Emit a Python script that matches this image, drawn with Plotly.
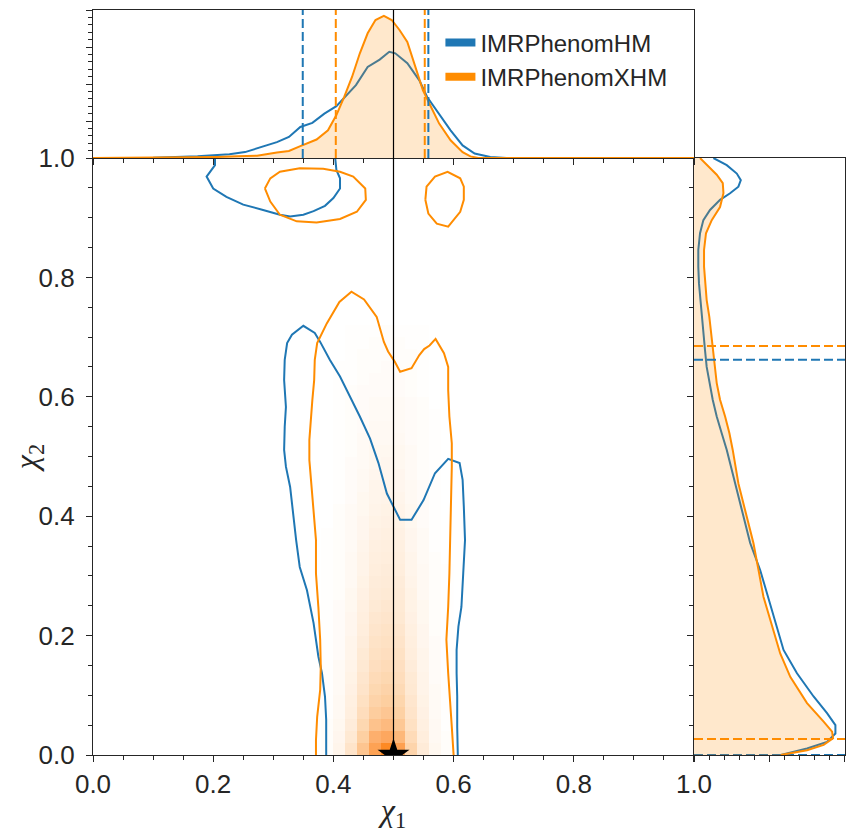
import plotly.graph_objects as go

# ---------------------------------------------------------------- data ----
LABELS = ["IMRPhenomHM", "IMRPhenomXHM"]
BLUE = "#1f77b4"
ORANGE = "#ff8c00"

INJ_CHI1 = 0.5
INJ_CHI2 = 0.0

# 1D marginal of chi1 (top panel)
BLUE_CHI1_X = [0.0, 0.10, 0.174, 0.201, 0.227, 0.253, 0.280, 0.306, 0.326, 0.345, 0.365, 0.385,
               0.405, 0.424, 0.4375, 0.457, 0.477, 0.493, 0.503, 0.523, 0.543, 0.556, 0.576,
               0.595, 0.615, 0.635, 0.661, 0.688, 0.75, 1.0]
BLUE_CHI1_PDF = [0.0, 0.01, 0.045, 0.063, 0.10, 0.16, 0.29, 0.43, 0.57, 0.84, 0.95, 1.20,
                 1.40, 1.74, 1.97, 2.46, 2.66, 2.87, 2.83, 2.56, 2.10, 1.65, 1.20,
                 0.75, 0.34, 0.12, 0.03, 0.0, 0.0, 0.0]
ORANGE_CHI1_X = [0.0, 0.15, 0.207, 0.240, 0.273, 0.306, 0.326, 0.345, 0.372, 0.391, 0.405, 0.418,
                 0.431, 0.444, 0.457, 0.470, 0.484, 0.497, 0.510, 0.523, 0.536, 0.549, 0.5625,
                 0.576, 0.595, 0.615, 0.628, 0.641, 0.70, 1.0]
ORANGE_CHI1_PDF = [0.0, 0.01, 0.03, 0.045, 0.063, 0.15, 0.19, 0.32, 0.50, 0.75, 1.16, 1.65,
                   2.19, 2.83, 3.37, 3.73, 3.84, 3.73, 3.46, 3.14, 2.47, 1.83, 1.38,
                   0.93, 0.48, 0.16, 0.045, 0.0, 0.0, 0.0]

# 1D marginal of chi2 (right panel)
BLUE_CHI2_Y = [0.0, 0.011, 0.022, 0.036, 0.050, 0.070, 0.098, 0.137, 0.176, 0.215, 0.265, 0.310,
               0.355, 0.399, 0.455, 0.511, 0.539, 0.567, 0.595, 0.623, 0.650, 0.678, 0.706,
               0.734, 0.762, 0.790, 0.818, 0.846, 0.874, 0.896, 0.913, 0.930, 0.941, 0.952,
               0.963, 0.974, 0.988, 1.0]
BLUE_CHI2_PDF = [1.15, 1.497, 1.762, 1.873, 1.873, 1.762, 1.584, 1.364, 1.186, 1.098, 0.987, 0.876,
                 0.744, 0.655, 0.544, 0.434, 0.367, 0.301, 0.248, 0.203, 0.168, 0.146, 0.124,
                 0.102, 0.08, 0.066, 0.057, 0.057, 0.08, 0.124, 0.212, 0.345, 0.478, 0.588,
                 0.62, 0.567, 0.434, 0.257]
ORANGE_CHI2_Y = [0.0, 0.008, 0.017, 0.028, 0.039, 0.056, 0.087, 0.131, 0.170, 0.215, 0.265, 0.310,
                 0.355, 0.399, 0.455, 0.511, 0.539, 0.567, 0.595, 0.623, 0.650, 0.678, 0.706,
                 0.734, 0.762, 0.790, 0.818, 0.846, 0.874, 0.896, 0.918, 0.941, 0.958, 0.972,
                 0.988, 1.0]
ORANGE_CHI2_PDF = [1.15, 1.497, 1.717, 1.842, 1.829, 1.717, 1.497, 1.275, 1.142, 1.032, 0.920, 0.854,
                   0.787, 0.699, 0.588, 0.513, 0.469, 0.412, 0.345, 0.301, 0.279, 0.257, 0.235,
                   0.203, 0.168, 0.146, 0.133, 0.133, 0.159, 0.235, 0.345, 0.39, 0.381, 0.301,
                   0.168, 0.08]

# 90% credible bounds
CHI1_CI_BLUE = [0.349, 0.558]
CHI1_CI_ORANGE = [0.404, 0.552]
CHI2_CI_BLUE = [0.0, 0.662]
CHI2_CI_ORANGE = [0.027, 0.685]

# 2D credible contours (main panel)
BLUE_MAIN_X = [0.388, 0.388, 0.388, 0.386, 0.381, 0.375, 0.367, 0.356, 0.344, 0.338, 0.333, 0.328,
               0.321, 0.318, 0.319, 0.321, 0.318, 0.319, 0.323, 0.331, 0.350, 0.369, 0.378, 0.394,
               0.411, 0.428, 0.444, 0.461, 0.475, 0.489, 0.500, 0.511, 0.530, 0.550, 0.569, 0.591,
               0.610, 0.615, 0.617, 0.619, 0.616, 0.613, 0.608, 0.605, 0.605, 0.606, 0.606, 0.607]
BLUE_MAIN_Y = [0.0, 0.025, 0.059, 0.098, 0.137, 0.165, 0.221, 0.276, 0.315, 0.360, 0.405, 0.449,
               0.483, 0.511, 0.550, 0.583, 0.628, 0.662, 0.690, 0.704, 0.719, 0.707, 0.692, 0.662,
               0.634, 0.600, 0.567, 0.530, 0.489, 0.438, 0.416, 0.394, 0.394, 0.427, 0.472, 0.496,
               0.489, 0.461, 0.416, 0.360, 0.304, 0.248, 0.215, 0.176, 0.137, 0.098, 0.047, 0.0]
BLUE_TOP_X = [0.203, 0.203, 0.189, 0.200, 0.222, 0.250, 0.283, 0.311, 0.328, 0.350, 0.367, 0.386,
              0.400, 0.411, 0.411, 0.405, 0.403]
BLUE_TOP_Y = [1.0, 0.988, 0.969, 0.949, 0.935, 0.922, 0.913, 0.905, 0.902, 0.905, 0.911, 0.920,
              0.933, 0.949, 0.966, 0.980, 1.0]

ORANGE_MAIN_X = [0.371, 0.371, 0.373, 0.378, 0.379, 0.378, 0.375, 0.371, 0.371, 0.367, 0.364, 0.360,
                 0.360, 0.362, 0.365, 0.368, 0.369, 0.373, 0.389, 0.410, 0.430, 0.451, 0.472, 0.484,
                 0.491, 0.502, 0.511, 0.530, 0.543, 0.551, 0.560, 0.570, 0.584, 0.591, 0.591, 0.593,
                 0.597, 0.597, 0.596, 0.594, 0.593, 0.591, 0.588, 0.591, 0.594, 0.597, 0.600]
ORANGE_MAIN_Y = [0.0, 0.025, 0.064, 0.109, 0.148, 0.193, 0.248, 0.304, 0.360, 0.405, 0.449, 0.494,
                 0.528, 0.561, 0.595, 0.628, 0.662, 0.690, 0.723, 0.759, 0.776, 0.763, 0.734, 0.692,
                 0.676, 0.659, 0.642, 0.648, 0.670, 0.680, 0.686, 0.697, 0.673, 0.650, 0.611, 0.567,
                 0.522, 0.483, 0.433, 0.360, 0.304, 0.248, 0.193, 0.137, 0.098, 0.047, 0.0]
ORANGE_TOPL_X = [0.286, 0.295, 0.311, 0.344, 0.383, 0.411, 0.433, 0.453, 0.454, 0.439, 0.411, 0.372,
                 0.339, 0.311, 0.295, 0.286]
ORANGE_TOPL_Y = [0.949, 0.966, 0.977, 0.983, 0.982, 0.977, 0.969, 0.949, 0.930, 0.910, 0.898, 0.892,
                 0.894, 0.905, 0.927, 0.949]
ORANGE_TOPR_X = [0.553, 0.555, 0.569, 0.590, 0.611, 0.617, 0.617, 0.611, 0.591, 0.572, 0.558, 0.553]
ORANGE_TOPR_Y = [0.930, 0.952, 0.969, 0.977, 0.966, 0.952, 0.930, 0.910, 0.885, 0.890, 0.907, 0.930]

# 2D histogram of the IMRPhenomXHM samples (rows: chi2 bins from 0, cols: chi1 bins from 0.38)
HIST_X = [0.39, 0.41, 0.43, 0.45, 0.47, 0.49, 0.51, 0.53, 0.55, 0.57, 0.59]
HIST_Y = [0.01 + 0.02 * i for i in range(36)]
HIST_Z = [
    [2, 8, 22, 48, 78, 100, 80, 36, 16, 6, 2],
    [2, 7, 18, 40, 64, 72, 58, 30, 14, 5, 2],
    [2, 6, 15, 33, 50, 56, 46, 25, 12, 5, 1],
    [1, 5, 13, 28, 42, 47, 39, 22, 11, 4, 1],
    [1, 5, 12, 25, 37, 41, 35, 20, 10, 4, 1],
    [1, 4, 11, 22, 33, 37, 31, 18, 9, 4, 1],
    [1, 4, 10, 20, 30, 33, 28, 17, 9, 3, 1],
    [1, 4, 9, 18, 27, 30, 26, 15, 8, 3, 1],
    [1, 3, 8, 17, 25, 27, 24, 14, 8, 3, 1],
    [1, 3, 8, 15, 23, 25, 22, 13, 7, 3, 1],
    [1, 3, 7, 14, 21, 23, 20, 12, 7, 2, 1],
    [1, 3, 7, 13, 19, 21, 18, 11, 6, 2, 1],
    [1, 3, 6, 12, 17, 19, 17, 10, 6, 2, 1],
    [1, 2, 6, 11, 16, 17, 16, 10, 5, 2, 1],
    [1, 2, 5, 10, 15, 16, 15, 9, 5, 2, 1],
    [1, 2, 5, 9, 14, 15, 14, 8, 5, 2, 1],
    [1, 2, 5, 9, 13, 14, 13, 8, 4, 2, 0],
    [1, 2, 4, 8, 12, 13, 12, 7, 4, 1, 0],
    [1, 2, 4, 7, 11, 12, 11, 7, 4, 1, 0],
    [0, 2, 4, 7, 10, 11, 10, 6, 3, 1, 0],
    [0, 2, 4, 6, 9, 10, 9, 6, 3, 1, 0],
    [0, 1, 3, 6, 8, 9, 8, 5, 3, 1, 0],
    [0, 1, 3, 5, 8, 8, 7, 5, 3, 1, 0],
    [0, 1, 3, 5, 7, 7, 7, 4, 2, 1, 0],
    [0, 1, 3, 4, 6, 7, 6, 4, 2, 1, 0],
    [0, 1, 2, 4, 6, 6, 6, 4, 2, 1, 0],
    [0, 1, 2, 4, 5, 5, 5, 3, 2, 1, 0],
    [0, 1, 2, 3, 5, 5, 4, 3, 2, 1, 0],
    [0, 1, 2, 3, 4, 4, 4, 3, 2, 1, 0],
    [0, 1, 2, 3, 4, 4, 4, 3, 2, 0, 0],
    [0, 1, 2, 3, 3, 3, 3, 2, 1, 0, 0],
    [0, 1, 1, 2, 3, 3, 3, 2, 1, 0, 0],
    [0, 1, 1, 2, 2, 3, 2, 2, 1, 0, 0],
    [0, 0, 1, 2, 2, 2, 2, 2, 1, 0, 0],
    [0, 0, 1, 1, 2, 2, 2, 1, 1, 0, 0],
    [0, 0, 1, 1, 1, 2, 1, 1, 1, 0, 0],
]

# --------------------------------------------------------------- figure ---
FONT = "Liberation Sans, Arial, sans-serif"
INK = "#262626"
XSPLIT = 0.7992   # main / right-panel boundary (paper)
YSPLIT = 0.8013   # main / top-panel boundary (paper)

fig = go.Figure()

# main panel: histogram, contours, injection
fig.add_trace(go.Heatmap(
    x=HIST_X, y=HIST_Y, z=HIST_Z, zmin=0, zmax=100, showscale=False, hoverinfo="skip",
    colorscale=[[0, "#ffffff"], [0.08, "#fff5eb"], [0.2, "#fee6ce"], [0.4, "#fdd0a2"],
                [0.65, "#fdae6b"], [0.85, "#fd9b48"], [1, "#fd8a24"]],
    xaxis="x", yaxis="y"))

fig.add_trace(go.Scatter(
    x=BLUE_MAIN_X + [None] + BLUE_TOP_X, y=BLUE_MAIN_Y + [None] + BLUE_TOP_Y,
    mode="lines", line=dict(color=BLUE, width=2), showlegend=False, xaxis="x", yaxis="y"))
fig.add_trace(go.Scatter(
    x=ORANGE_MAIN_X + [None] + ORANGE_TOPL_X + [None] + ORANGE_TOPR_X,
    y=ORANGE_MAIN_Y + [None] + ORANGE_TOPL_Y + [None] + ORANGE_TOPR_Y,
    mode="lines", line=dict(color=ORANGE, width=2), showlegend=False, xaxis="x", yaxis="y"))
fig.add_trace(go.Scatter(
    x=[INJ_CHI1], y=[INJ_CHI2], mode="markers",
    marker=dict(symbol="star", size=24, color="black"), showlegend=False, xaxis="x", yaxis="y"))

# top panel: chi1 marginals (orange fill drawn over the blue line)
fig.add_trace(go.Scatter(
    x=BLUE_CHI1_X, y=BLUE_CHI1_PDF, mode="lines", line=dict(color=BLUE, width=2),
    showlegend=False, xaxis="x3", yaxis="y3"))
fig.add_trace(go.Scatter(
    x=ORANGE_CHI1_X, y=ORANGE_CHI1_PDF, mode="lines", line=dict(color=ORANGE, width=2),
    fill="tozeroy", fillcolor="rgba(255,140,0,0.2)", showlegend=False, xaxis="x3", yaxis="y3"))

# right panel: chi2 marginals
fig.add_trace(go.Scatter(
    x=BLUE_CHI2_PDF, y=BLUE_CHI2_Y, mode="lines", line=dict(color=BLUE, width=2),
    showlegend=False, xaxis="x2", yaxis="y2"))
fig.add_trace(go.Scatter(
    x=ORANGE_CHI2_PDF, y=ORANGE_CHI2_Y, mode="lines", line=dict(color=ORANGE, width=2),
    fill="tozerox", fillcolor="rgba(255,140,0,0.2)", showlegend=False, xaxis="x2", yaxis="y2"))

# legend-only entries
for name, color in zip(LABELS, [BLUE, ORANGE]):
    fig.add_trace(go.Scatter(x=[None], y=[None], mode="lines", name=name,
                             line=dict(color=color, width=8), xaxis="x3", yaxis="y3"))

# credible-interval and injection lines
dash = "9px,4px"
for v in CHI1_CI_BLUE:
    fig.add_shape(type="line", xref="x3", yref="y3 domain", x0=v, x1=v, y0=0, y1=1,
                  line=dict(color=BLUE, width=2, dash=dash))
for v in CHI1_CI_ORANGE:
    fig.add_shape(type="line", xref="x3", yref="y3 domain", x0=v, x1=v, y0=0, y1=1,
                  line=dict(color=ORANGE, width=2, dash=dash))
for v in CHI2_CI_BLUE:
    fig.add_shape(type="line", xref="x2 domain", yref="y2", x0=0, x1=1, y0=v, y1=v,
                  layer="below" if v == 0 else "above",
                  line=dict(color=BLUE, width=2, dash=dash))
for v in CHI2_CI_ORANGE:
    fig.add_shape(type="line", xref="x2 domain", yref="y2", x0=0, x1=1, y0=v, y1=v,
                  line=dict(color=ORANGE, width=2, dash=dash))
for xr, yr in [("x", "y domain"), ("x3", "y3 domain")]:
    fig.add_shape(type="line", xref=xr, yref=yr, x0=INJ_CHI1, x1=INJ_CHI1, y0=0, y1=1,
                  line=dict(color="black", width=1.2))

axis_common = dict(showgrid=False, zeroline=False, showline=True, linecolor=INK, linewidth=1.25,
                   ticks="outside", ticklen=6, tickwidth=1.25, tickcolor=INK, automargin=False,
                   tickfont=dict(family=FONT, size=26, color=INK))
minor_main = dict(dtick=0.05, ticklen=3.5, tickwidth=1, tickcolor=INK, ticks="outside")
label_font = dict(family="Liberation Serif, serif", size=32, color=INK)

# the page body adds an 8 px offset, so the figure is 8 px smaller than the window
fig.update_layout(
    width=846, height=828, margin=dict(l=85, r=9, t=2, b=81),
    paper_bgcolor="white", plot_bgcolor="white",
    xaxis=dict(domain=[0, XSPLIT], range=[0, 1], anchor="y", tickvals=[0, 0.2, 0.4, 0.6, 0.8, 1.0],
               tickformat=".1f", minor=minor_main,
               title=dict(text="<i>χ</i><sub>1</sub>", font=label_font, standoff=0),
               **axis_common),
    yaxis=dict(domain=[0, YSPLIT], range=[0, 1], anchor="x", tickvals=[0, 0.2, 0.4, 0.6, 0.8, 1.0],
               tickformat=".1f", minor=minor_main, ticklabelstandoff=6,
               title=dict(text="<i>χ</i><sub>2</sub>", font=label_font),
               **axis_common),
    xaxis2=dict(domain=[XSPLIT, 1], range=[0, 2.0], anchor="y2", tickvals=[0, 1, 2],
                showticklabels=False, mirror=True,
                minor=dict(dtick=0.2, ticklen=3.5, tickwidth=1, tickcolor=INK, ticks="outside"),
                **axis_common),
    yaxis2=dict(domain=[0, YSPLIT], range=[0, 1], anchor="x2", matches="y",
                tickvals=[0, 0.2, 0.4, 0.6, 0.8, 1.0], showticklabels=False, mirror=True,
                minor=minor_main, **axis_common),
    xaxis3=dict(domain=[0, XSPLIT], range=[0, 1], anchor="y3", matches="x",
                tickvals=[0, 0.2, 0.4, 0.6, 0.8, 1.0], showticklabels=False, mirror=True,
                minor=minor_main, **axis_common),
    yaxis3=dict(domain=[YSPLIT, 1], range=[0, 4], anchor="x3", tickvals=[0, 1, 2, 3, 4],
                showticklabels=False, mirror=True,
                minor=dict(dtick=0.2, ticklen=3.5, tickwidth=1, tickcolor=INK, ticks="outside"),
                **axis_common),
    legend=dict(x=0.462, y=0.986, xanchor="left", yanchor="top", bgcolor="rgba(0,0,0,0)",
                font=dict(family=FONT, size=24, color=INK), tracegroupgap=0, itemwidth=30),
)

fig.write_html("out.html")
